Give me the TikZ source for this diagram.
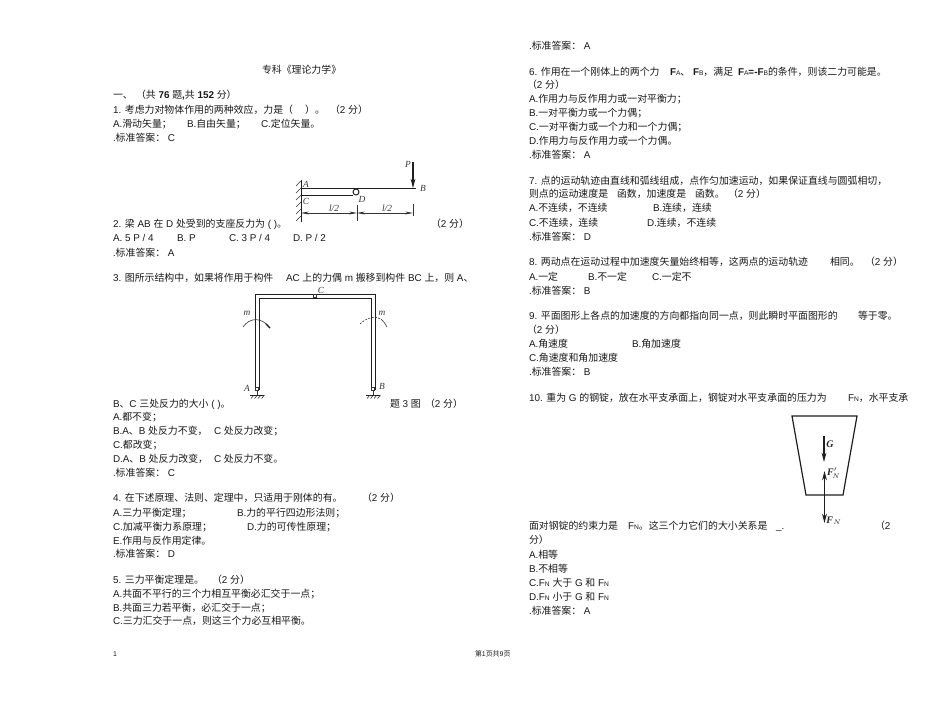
\documentclass[tikz,border=0pt]{standalone}
\usepackage{fontspec}
\setmainfont{Liberation Sans}
\newfontfamily\cjk{Noto Sans CJK SC}
\newfontfamily\lblfont{Liberation Serif}
\usetikzlibrary{arrows.meta}
\newXeTeXintercharclass\cjkclass
\count255="3000
\loop\XeTeXcharclass\count255=\cjkclass\ifnum\count255<"9FFF\advance\count255 by 1\repeat
\count255="FF00
\loop\XeTeXcharclass\count255=\cjkclass\ifnum\count255<"FFEF\advance\count255 by 1\repeat
\XeTeXinterchartoks 0 \cjkclass={\begingroup\cjk}
\XeTeXinterchartoks 4095 \cjkclass={\begingroup\cjk}
\XeTeXinterchartoks \cjkclass 0 ={\endgroup}
\XeTeXinterchartoks \cjkclass 4095 ={\endgroup}
\XeTeXinterchartokenstate=1
\def\cma{^^^^ff0c}
\def\semi{^^^^ff1b}
\def\cln{^^^^ff1a}
\def\lpr{^^^^ff08}
\def\rpr{^^^^ff09}
\newcounter{tn}
\newcommand{\T}[3]{\stepcounter{tn}\node[txt] (t\thetn) at (#1,#2+3.4) {#3};}
\newcommand{\sm}[1]{{\fontsize{5}{5}\selectfont #1}}
\tikzset{
 txt/.style={anchor=base west,inner sep=0pt,outer sep=0pt,font=\fontsize{7.42}{8}\selectfont,text=black!90},
 small txt/.style={txt,font=\fontsize{5.2}{6}\selectfont},
 fig/.style={black!88,line width=0.7pt},
 thin fig/.style={black!80,line width=0.45pt},
 arr/.style={fig,line width=0.85pt,-{Stealth[length=7pt,width=3.6pt]}},
 dimarr/.style={thin fig,{Stealth[length=6pt,width=2.2pt]}-{Stealth[length=6pt,width=2.2pt]}},
 lbl/.style={inner sep=0pt,text=black!78,font=\lblfont\fontsize{7}{7}\selectfont\itshape},
 blbl/.style={inner sep=0pt,text=black!85,font=\lblfont\fontsize{7.5}{8}\selectfont\bfseries\itshape},
}
\begin{document}
\begin{tikzpicture}[x=0.75pt,y=-0.75pt]
\useasboundingbox[fill=white] (0,0) rectangle (950,703);
% left column
\T{262}{70}{专科《理论力学》}
\T{113}{95}{一、}
\T{136}{95}{\lpr 共 \textbf{76} 题\textbf{,}共 \textbf{152} 分\rpr}
\T{113}{110}{1. 考虑力对物体作用的两种效应\cma 力是\lpr}
\T{305}{110}{\rpr}
\T{315}{110}{。}
\T{330}{110}{\lpr 2 分\rpr}
\T{113}{124}{A.滑动矢量\semi}
\T{187}{124}{B.自由矢量\semi}
\T{261}{124}{C.定位矢量。}
\T{113}{138}{.标准答案\cln{} C}
\T{113}{224}{2. 梁 AB 在 D 处受到的支座反力为 ( )。}
\T{431}{224}{\lpr 2 分\rpr}
\T{113}{238}{A. 5 P / 4}
\T{177}{238}{B. P}
\T{229}{238}{C. 3 P / 4}
\T{293}{238}{D. P / 2}
\T{113}{253}{.标准答案\cln{} A}
\T{113}{278}{3. 图所示结构中\cma 如果将作用于构件}
\T{286}{278}{AC 上的力偶 m 搬移到构件 BC 上\cma 则 A、}
\T{113}{404}{B、C 三处反力的大小 ( )。}
\T{390}{404}{题 3 图}
\T{425}{404}{\lpr 2 分\rpr}
\T{113}{417}{A.都不变\semi}
\T{113}{431}{B.A、B 处反力不变\cma}
\T{214}{431}{C 处反力改变\semi}
\T{113}{445}{C.都改变\semi}
\T{113}{459}{D.A、B 处反力改变\cma}
\T{214}{459}{C 处反力不变。}
\T{113}{473}{.标准答案\cln{} C}
\T{113}{498}{4. 在下述原理、法则、定理中\cma 只适用于刚体的有。}
\T{362}{498}{\lpr 2 分\rpr}
\T{113}{513}{A.三力平衡定理\semi}
\T{237}{513}{B.力的平行四边形法则\semi}
\T{113}{527}{C.加减平衡力系原理\semi}
\T{247}{527}{D.力的可传性原理\semi}
\T{113}{541}{E.作用与反作用定律。}
\T{113}{554}{.标准答案\cln{} D}
\T{113}{580}{5. 三力平衡定理是。}
\T{212}{580}{\lpr 2 分\rpr}
\T{113}{594}{A.共面不平行的三个力相互平衡必汇交于一点\semi}
\T{113}{608}{B.共面三力若平衡\cma 必汇交于一点\semi}
\T{113}{621}{C.三力汇交于一点\cma 则这三个力必互相平衡。}
\node[small txt] (pn) at (113,656) {1};
\node[small txt] (pg) at (475,656) {第1页共9页};
% right column
\T{529}{46}{.标准答案\cln{} A}
\T{529}{72}{6. 作用在一个刚体上的两个力}
\T{670}{72}{\textbf{F}\sm{A}、}
\T{693}{72}{\textbf{F}\sm{B}\cma 满足}
\T{738}{72}{\textbf{F}\sm{A}\textbf{=-F}\sm{B}的条件\cma 则该二力可能是。}
\T{527}{85}{\lpr 2 分\rpr}
\T{529}{99}{A.作用力与反作用力或一对平衡力\semi}
\T{529}{113}{B.一对平衡力或一个力偶\semi}
\T{529}{127}{C.一对平衡力或一个力和一个力偶\semi}
\T{529}{141}{D.作用力与反作用力或一个力偶。}
\T{529}{155}{.标准答案\cln{} A}
\T{529}{181}{7. 点的运动轨迹由直线和弧线组成\cma 点作匀加速运动\cma 如果保证直线与圆弧相切\cma}
\T{529}{194}{则点的运动速度是}
\T{617}{194}{函数\cma 加速度是}
\T{695}{194}{函数。}
\T{728}{194}{\lpr 2 分\rpr}
\T{529}{208}{A.不连续\cma 不连续}
\T{653}{208}{B.连续\cma 连续}
\T{529}{223}{C.不连续\cma 连续}
\T{647}{223}{D.连续\cma 不连续}
\T{529}{237}{.标准答案\cln{} D}
\T{529}{262}{8. 两动点在运动过程中加速度矢量始终相等\cma 这两点的运动轨迹}
\T{830}{262}{相同。}
\T{865}{262}{\lpr 2 分\rpr}
\T{529}{277}{A.一定}
\T{588}{277}{B.不一定}
\T{652}{277}{C.一定不}
\T{529}{291}{.标准答案\cln{} B}
\T{529}{316}{9. 平面图形上各点的加速度的方向都指向同一点\cma 则此瞬时平面图形的}
\T{858}{316}{等于零。}
\T{527}{330}{\lpr 2 分\rpr}
\T{529}{344}{A.角速度}
\T{632}{344}{B.角加速度}
\T{529}{358}{C.角速度和角加速度}
\T{529}{372}{.标准答案\cln{} B}
\T{529}{398}{10. 重为 G 的钢锭\cma 放在水平支承面上\cma 钢锭对水平支承面的压力为}
\T{848}{398}{F\sm{N}\cma 水平支承}
\T{529}{526}{面对钢锭的约束力是}
\T{628}{526}{F\sm{N}。这三个力它们的大小关系是}
\T{776}{526}{\_.}
\T{875}{526}{\lpr 2}
\T{529}{540}{分\rpr}
\T{529}{555}{A.相等}
\T{529}{569}{B.不相等}
\T{529}{583}{C.F\sm{N} 大于 G 和 F\sm{N}}
\T{529}{597}{D.F\sm{N} 小于 G 和 F\sm{N}}
\T{529}{611}{.标准答案\cln{} A}
% figure 1: beam
\coordinate (wt) at (301,180); \coordinate (wb) at (301,222);
\coordinate (A1) at (301,188.5); \coordinate (B1) at (416,188.5);
\coordinate (C1) at (301,195); \coordinate (D1) at (353,195);
\coordinate (Pt) at (413,162); \coordinate (Pb) at (413,188);
\coordinate (d1) at (301,213); \coordinate (d2) at (357,213); \coordinate (d3) at (413,213);
\draw[fig] (wt) -- (wb);
\foreach \i in {0,...,5}{\draw[thin fig] (301,181+\i*7) -- ++(-5,5);}
\draw[fig] (A1) -- (B1);
\draw[fig] (C1) -- (D1);
\draw[fig,fill=white] (356,192) circle (3);
\draw[arr] (Pt) -- (Pb);
\draw[dimarr] (d1) -- (d2);
\draw[dimarr] (d2) -- (d3);
\draw[thin fig] (357,205) -- (357,221) (413,204) -- (413,216);
\node[lbl] (lA) at (306,184) {A};
\node[lbl] (lC) at (306,201) {C};
\node[lbl] (lD) at (362,199) {D};
\node[lbl] (lB) at (423,188) {B};
\node[lbl] (lP) at (408,164) {P};
\node[lbl] (ll1) at (334,208.5) {l/2};
\node[lbl] (ll2) at (387,208.5) {l/2};
% figure 2: frame
\draw[fig] (255,390) -- (255,294) -- (375,294) -- (375,390);
\draw[fig] (259,390) -- (259,298) -- (371,298) -- (371,390);
\draw[thin fig,fill=white] (313.5,294.5) rectangle (316.5,297.5);
\draw[thin fig,fill=white] (255.5,387.5) rectangle (258.5,390.5);
\draw[thin fig,fill=white] (371.5,387.5) rectangle (374.5,390.5);
\draw[fig] (250,395) -- (264,395);
\draw[fig] (366,395) -- (380,395);
\draw[thin fig] (257,390.5) -- (257,395) (373,390.5) -- (373,395);
\foreach \i in {0,...,3}{
 \draw[thin fig] (254+\i*3.5,395) -- ++(-3,3.5);
 \draw[thin fig] (370+\i*3.5,395) -- ++(-3,3.5);}
\draw[thin fig] (243,327) .. controls (250,317) and (262,317) .. (270,328);
\draw[fig,line width=1pt] (266,324) -- (270,328);
\draw[thin fig,dash pattern=on 1.5pt off 1pt] (360,324) .. controls (367,317) and (376,316) .. (381,319);
\draw[thin fig] (381,319) .. controls (383,321) and (385,323) .. (387,327);
\node[lbl] (lm1) at (247,313) {m};
\node[lbl] (lm2) at (382,313) {m};
\node[lbl] (lA2) at (247,388) {A};
\node[lbl] (lB2) at (382,386) {B};
\node[lbl] (lC2) at (321,290) {C};
% figure 3: ingot
\coordinate (i1) at (792,416); \coordinate (i2) at (857,416);
\coordinate (i3) at (843,495); \coordinate (i4) at (806,495);
\draw[fig,line width=0.9pt] (i1) -- (i2) -- (i3) -- (i4) -- cycle;
\coordinate (Gt) at (824,436); \coordinate (Gb) at (824,462);
\coordinate (Fb) at (824.5,495); \coordinate (Ft) at (824.5,471); \coordinate (Fe) at (824.5,523);
\draw[arr] (Gt) -- (Gb);
\draw[arr] (Fb) -- (Ft);
\draw[arr] (Fb) -- (Fe);
\node[blbl] (lG) at (830,444) {G};
\node[blbl] (lFp) at (834,473) {F$'_{\!N}$};
\node[blbl] (lFn) at (834,521) {F$_{N}$};
\end{tikzpicture}
\end{document}
